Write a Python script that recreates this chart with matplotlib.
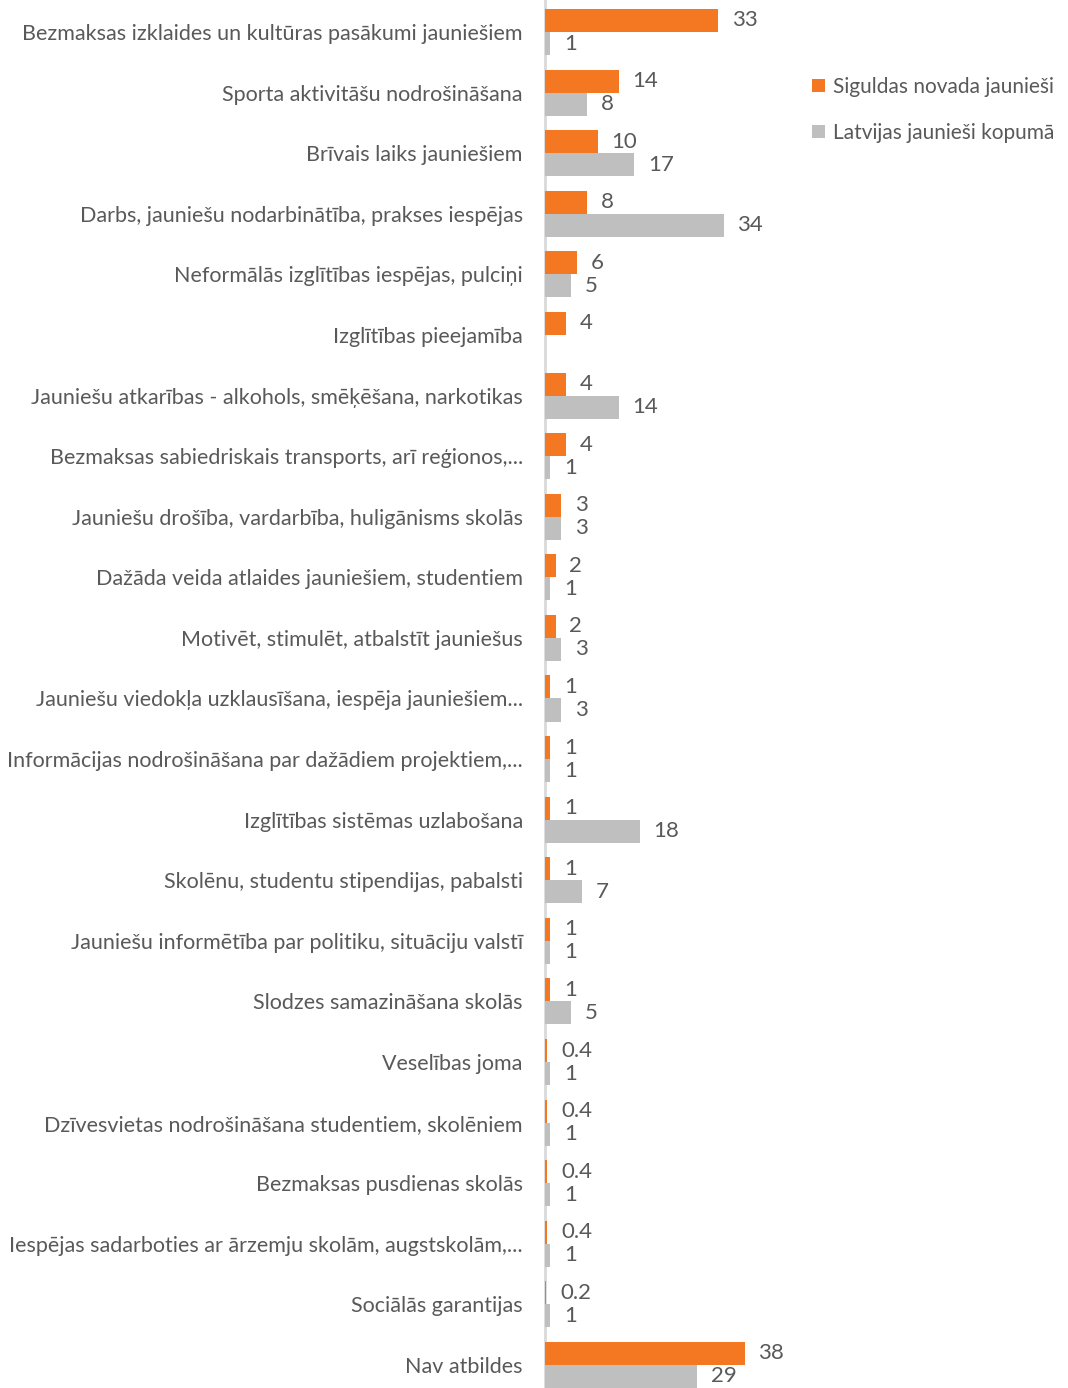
import numpy as np
import matplotlib
matplotlib.use("Agg")
import matplotlib.pyplot as plt

plt.rcParams['font.family'] = ['Lato', 'DejaVu Sans']

categories = [
    "Bezmaksas izklaides un kultūras pasākumi jauniešiem",
    "Sporta aktivitāšu nodrošināšana",
    "Brīvais laiks jauniešiem",
    "Darbs, jauniešu nodarbinātība, prakses iespējas",
    "Neformālās izglītības iespējas, pulciņi",
    "Izglītības pieejamība",
    "Jauniešu atkarības - alkohols, smēķēšana, narkotikas",
    "Bezmaksas sabiedriskais transports, arī reģionos,...",
    "Jauniešu drošība, vardarbība, huligānisms skolās",
    "Dažāda veida atlaides jauniešiem, studentiem",
    "Motivēt, stimulēt, atbalstīt jauniešus",
    "Jauniešu viedokļa uzklausīšana, iespēja jauniešiem...",
    "Informācijas nodrošināšana par dažādiem projektiem,...",
    "Izglītības sistēmas uzlabošana",
    "Skolēnu, studentu stipendijas, pabalsti",
    "Jauniešu informētība par politiku, situāciju valstī",
    "Slodzes samazināšana skolās",
    "Veselības joma",
    "Dzīvesvietas nodrošināšana studentiem, skolēniem",
    "Bezmaksas pusdienas skolās",
    "Iespējas sadarboties ar ārzemju skolām, augstskolām,...",
    "Sociālās garantijas",
    "Nav atbildes",
]
sigulda = [33, 14, 10, 8, 6, 4, 4, 4, 3, 2, 2, 1, 1, 1, 1, 1, 1, 0.4, 0.4, 0.4, 0.4, 0.2, 38]
latvija = [1, 8, 17, 34, 5, 0, 14, 1, 3, 1, 3, 3, 1, 18, 7, 1, 5, 1, 1, 1, 1, 1, 29]
series_names = ["Siguldas novada jaunieši", "Latvijas jaunieši kopumā"]

orange = "#F47721"
grey = "#BFBFBF"
txt = "#595959"

fig = plt.figure(figsize=(10.68, 13.88), dpi=100)
ax = fig.add_axes([545 / 1068, 0.0, 252 / 1068, 1.0])

y = np.arange(len(categories))
h = 0.38
b1 = ax.barh(y - 0.19, sigulda, height=h, color=orange, label=series_names[0], zorder=3)
b2 = ax.barh(y + 0.19, latvija, height=h, color=grey, label=series_names[1], zorder=3)


def fmt(v):
    return f"{v:.1f}" if v < 1 else f"{v:g}"


for bars, vals in ((b1, sigulda), (b2, latvija)):
    for rect, v in zip(bars, vals):
        if v == 0:
            continue
        ax.annotate(fmt(v), (rect.get_width(), rect.get_y() + rect.get_height() / 2),
                    xytext=(10, 0), textcoords="offset points", ha="left", va="center",
                    fontsize=16, color=txt)

ax.set_xlim(0, 48)
ax.set_ylim(22.38, -0.528)
ax.set_yticks(y)
ax.set_yticklabels(categories, fontsize=15.5, color=txt)
ax.tick_params(axis="y", length=0, pad=16)
ax.set_xticks([])
for s in ("top", "right", "bottom"):
    ax.spines[s].set_visible(False)
ax.spines["left"].set_color("#D9D9D9")
ax.spines["left"].set_linewidth(2)
ax.spines["left"].set_zorder(0.5)

fig.legend(handles=[b1, b2], labels=series_names, loc="upper left",
           bbox_to_anchor=(812 / 1068, 1 - 77 / 1388), frameon=False,
           borderpad=0, borderaxespad=0,
           fontsize=15, labelcolor=txt, handlelength=0.6, handleheight=0.6,
           handletextpad=0.4, labelspacing=1.25)

fig.savefig("out.png", dpi=100)
